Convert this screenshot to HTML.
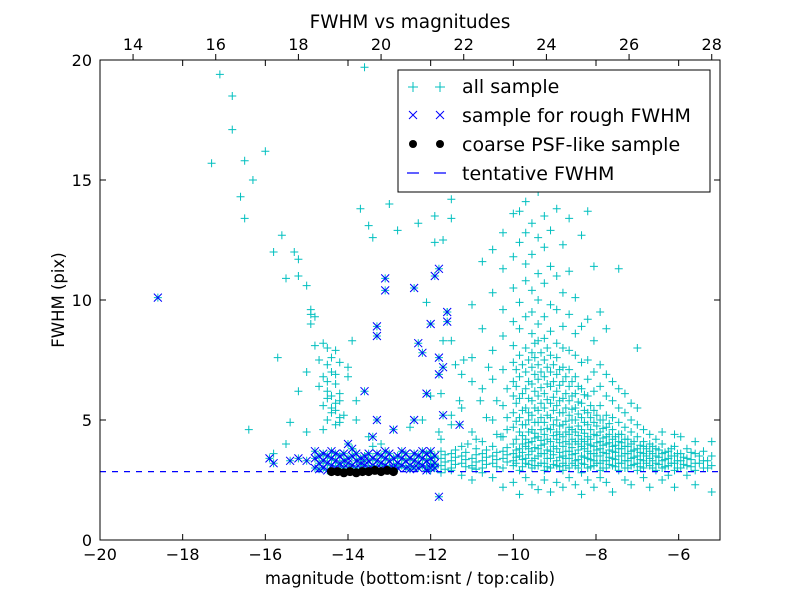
<!DOCTYPE html>
<html><head><meta charset="utf-8">
<style>
body{margin:0;background:#fff;}
svg text{font-family:"DejaVu Sans","Liberation Sans",sans-serif;}
</style></head>
<body>
<svg id="chart" width="800" height="600" viewBox="0 0 800 600" xmlns="http://www.w3.org/2000/svg">
<rect width="800" height="600" fill="#fff"/>
<text x="410" y="28" font-size="18.5" text-anchor="middle">FWHM vs magnitudes</text>
<g id="marks"></g>
<rect x="100" y="60" width="620" height="480" fill="none" stroke="#000" stroke-width="1"/>
<g id="axes"></g>
<text x="410" y="584" font-size="16.5" text-anchor="middle">magnitude (bottom:isnt / top:calib)</text>
<text x="64" y="300" font-size="16.5" text-anchor="middle" transform="rotate(-90 64 300)">FWHM (pix)</text>
<g>
<rect x="398" y="70" width="312" height="122" fill="#fff" stroke="#000" stroke-width="1"/>
<g>
<path d="M408 87h10M413 82v10M435 87h10M440 82v10" stroke="#00bfbf" stroke-width="1"/>
<text x="462" y="93" font-size="19">all sample</text></g>
<g>
<path d="M409 111l8 8M417 111l-8 8M436 111l8 8M444 111l-8 8" stroke="#0000ff" stroke-width="1"/>
<text x="462" y="122" font-size="19">sample for rough FWHM</text></g>
<g>
<circle cx="413" cy="144" r="4" fill="#000"/><circle cx="440" cy="144" r="4" fill="#000"/>
<text x="462" y="151" font-size="19">coarse PSF-like sample</text></g>
<g>
<path d="M407 173h12M434 173h12" stroke="#0000ff" stroke-width="1.2"/>
<text x="462" y="180" font-size="19">tentative FWHM</text></g>
</g>
</svg>
<script>
const xTicks=[-20,-18,-16,-14,-12,-10,-8,-6];
const yTicks=[0,5,10,15,20];
const topTicks=[14,16,18,20,22,24,26,28];
const topOffset=33.2;
const tentativeFwhm=2.85;
const scatterCyan=[[-17.3,15.7],[-17.1,19.4],[-16.8,18.5],[-16.8,17.1],[-16.5,15.8],[-16.3,15.0],[-16.0,16.2],[-16.6,14.3],[-16.5,13.4],[-15.8,12.0],[-15.6,12.7],[-15.5,10.9],[-15.3,12.0],[-15.2,11.7],[-15.2,11.0],[-15.0,10.6],[-14.9,9.6],[-14.8,9.3],[-14.9,9.0],[-14.6,8.2],[-14.8,8.1],[-14.5,8.0],[-14.3,7.9],[-14.7,7.5],[-14.5,7.3],[-14.4,7.0],[-14.6,6.8],[-14.3,6.5],[-14.5,6.2],[-14.4,6.0],[-14.2,5.8],[-14.6,5.6],[-14.3,5.4],[-14.1,5.2],[-14.5,5.0],[-14.3,4.8],[-15.0,4.5],[-15.4,4.9],[-15.5,4.0],[-15.8,3.6],[-16.4,4.6],[-15.7,7.6],[-15.0,7.0],[-15.2,6.2],[-14.0,7.2],[-13.9,8.3],[-14.0,6.8],[-13.8,5.0],[-13.8,5.8],[-14.0,4.0],[-13.5,4.3],[-13.2,4.0],[-13.9,3.8],[-13.4,3.9],[-13.7,13.8],[-13.5,13.1],[-13.4,12.6],[-13.0,14.0],[-12.8,12.9],[-13.6,19.7],[-12.3,13.2],[-11.9,13.5],[-11.7,12.5],[-11.5,14.2],[-11.9,12.4],[-12.1,9.9],[-11.6,9.5],[-11.7,8.3],[-12.0,6.0],[-11.4,7.3],[-11.3,5.8],[-11.5,5.2],[-11.8,4.5],[-12.5,4.7],[-12.2,5.0],[-11.2,7.5],[-11.0,6.6],[-10.8,5.8],[-10.6,7.2],[-10.3,4.3],[-11.1,4.0],[-10.9,3.8],[-14.9,9.4],[-14.7,6.4],[-14.2,6.1],[-14.4,5.5],[-14.2,4.9],[-14.6,4.6],[-14.4,7.6],[-14.2,7.4],[-14.5,6.6],[-14.3,6.9],[-14.5,5.9],[-14.3,5.7],[-14.4,5.3],[-14.2,5.1]];
const colMag=[-12.0,-11.75,-11.5,-11.25,-11.0,-10.75,-10.5,-10.25,-10.0,-9.85,-9.7,-9.55,-9.4,-9.25,-9.1,-8.95,-8.8,-8.65,-8.5,-8.35,-8.2,-8.05,-7.9,-7.75,-7.6,-7.45,-7.3,-7.15,-7.0,-6.85,-6.7,-6.55,-6.4,-6.25,-6.1,-5.95,-5.8,-5.6,-5.4,-5.2];
const colFwhm=[[3.0,3.2,3.5,3.3,2.9,3.6],[3.1,3.4,2.8,3.7,4.2,6.1],[3.0,3.3,3.6,2.9,4.8,8.3,13.4],[3.2,3.5,2.7,3.9,5.5,6.9],[3.1,3.4,3.0,2.5,4.5,7.6,9.8],[3.3,3.6,3.0,2.8,4.1,6.3,8.8,11.6],[3.2,3.5,3.9,2.6,5.0,6.7,7.9,10.3,12.1],[3.0,3.4,3.7,4.3,5.6,7.1,8.5,9.6,11.3,12.8,2.2],[3.1,3.3,3.6,4.0,4.7,5.3,6.0,6.6,7.4,8.1,9.1,10.5,11.8,13.6,2.4],[2.9,3.5,3.8,4.5,5.1,5.9,6.8,7.7,8.8,9.9,12.4,13.7,1.9],[3.2,3.4,3.9,4.2,4.8,5.5,6.3,7.0,8.0,9.3,10.8,11.5,12.8,14.1,2.6],[3.0,3.3,3.7,4.1,4.6,5.2,5.8,6.5,7.2,7.8,8.6,9.5,10.4,11.9,13.2,15.0,2.3],[3.1,3.5,3.8,4.3,4.9,5.4,6.0,6.7,7.3,8.3,9.0,10.0,11.1,12.6,14.5,2.1],[2.9,3.2,3.6,4.0,4.4,4.9,5.5,6.1,6.8,7.5,8.4,9.3,10.7,12.2,13.5,2.5],[3.0,3.4,3.7,4.1,4.6,5.1,5.7,6.4,7.0,7.7,8.7,9.8,11.4,12.9,2.0],[3.1,3.3,3.8,4.2,4.5,5.0,5.6,6.2,6.9,7.6,8.2,9.6,11.0,13.8,2.4],[2.9,3.2,3.5,3.9,4.3,4.8,5.3,5.9,6.6,7.2,8.0,8.9,10.3,12.3,2.2],[3.0,3.4,3.7,4.0,4.4,4.7,5.2,5.8,6.4,7.1,7.9,9.4,11.2,13.4,2.6],[3.1,3.3,3.6,4.1,4.5,5.0,5.5,6.1,6.8,7.7,8.6,10.1,2.3],[2.8,3.2,3.5,3.9,4.2,4.6,5.1,5.7,6.3,7.4,8.9,12.7,1.9],[3.0,3.4,3.7,4.0,4.3,4.8,5.3,6.0,6.7,7.5,9.2,13.7,2.5],[3.1,3.3,3.6,3.9,4.4,4.9,5.4,6.2,7.0,8.3,11.4,2.2],[2.9,3.2,3.5,3.8,4.1,4.5,5.0,5.6,6.4,7.3,9.5,2.6],[3.0,3.3,3.6,4.0,4.3,4.7,5.2,6.0,6.9,8.8,2.4],[3.1,3.4,3.7,3.9,4.2,4.6,5.1,5.8,6.6,2.0],[2.9,3.2,3.5,3.8,4.1,4.4,4.9,5.5,6.3,11.3],[3.0,3.3,3.6,3.9,4.2,4.7,5.3,6.1,2.5],[3.1,3.4,3.7,4.0,4.5,5.0,5.7,2.3],[2.9,3.2,3.5,3.8,4.3,4.8,5.5,8.0],[3.0,3.3,3.6,3.9,4.1,4.6,2.6],[3.1,3.4,3.7,4.0,4.4,2.2],[2.9,3.2,3.5,3.8,4.2],[3.0,3.3,3.6,4.0,4.5,2.5],[3.1,3.4,3.7,2.7],[2.9,3.2,3.5,3.9,4.4,2.2],[3.0,3.3,3.6,4.3],[3.1,3.4,3.8,2.7],[2.9,3.2,3.6,4.1,2.3],[3.0,3.3,3.7],[3.1,3.5,4.1,2.0]];
const denseMag=[-11.9,-11.65,-11.4,-11.15,-10.9,-10.65,-10.4,-10.15,-9.93,-9.78,-9.63,-9.48,-9.33,-9.18,-9.03,-8.88,-8.73,-8.58,-8.43,-8.28,-8.13,-7.98,-7.83,-7.68,-7.53,-7.38,-7.23,-7.08,-6.93,-6.78,-6.63,-6.48,-6.33,-6.18,-6.03,-5.88,-5.7,-5.5,-5.3];
const denseFwhm=[[3.05,3.45,3.15],[3.25,2.95,3.55],[3.15,3.45,3.75],[3.05,3.35,3.65],[3.25,2.95,3.55,4.2],[3.15,3.45,3.75,5.1],[3.05,3.35,3.65,4.4,5.8],[3.25,3.55,3.85,4.6,5.1,6.3],[3.2,3.45,3.75,4.2,4.95,5.7,6.4,7.1],[3.05,3.35,3.65,4.0,4.35,4.8,5.4,6.1,7.3],[3.15,3.55,3.8,4.05,4.5,5.0,5.3,5.9,6.6,7.5],[3.1,3.4,3.85,4.25,4.45,4.9,5.5,6.2,6.9,7.6,8.2],[3.2,3.6,3.95,4.15,4.6,5.1,5.7,6.35,7.0,7.8],[3.05,3.4,3.75,4.2,4.65,5.2,5.85,6.5,7.2,8.0],[3.15,3.55,3.9,4.35,4.8,5.4,5.95,6.6,7.3],[3.05,3.45,3.65,4.05,4.4,4.75,5.3,5.8,6.45,7.1],[3.1,3.4,3.7,4.1,4.5,4.95,5.5,6.1,6.8],[3.2,3.55,3.85,4.2,4.6,5.0,5.45,6.0,6.6],[3.0,3.35,3.75,4.0,4.35,4.75,5.25,5.75,6.4],[3.15,3.45,3.8,4.1,4.45,4.9,5.4,6.05],[3.05,3.35,3.6,3.95,4.2,4.6,5.1,5.6],[3.2,3.5,3.75,4.05,4.35,4.75,5.2],[3.0,3.3,3.65,3.95,4.25,4.65,5.0],[3.15,3.45,3.75,4.05,4.4,4.85],[3.05,3.35,3.65,3.95,4.3],[3.2,3.5,3.8,4.05,4.4],[3.0,3.3,3.6,3.9,4.2],[3.15,3.45,3.75,4.1],[3.05,3.35,3.65,3.95],[3.2,3.5,3.8],[3.0,3.3,3.6,3.9],[3.15,3.45,3.75],[3.05,3.35,3.65],[3.2,3.5,3.8],[3.0,3.3,3.6],[3.15,3.45],[3.05,3.35,3.65],[3.2,3.5],[3.0,3.3]];
const roughScatter=[[-18.6,10.1],[-13.1,10.9],[-13.1,10.4],[-13.3,8.9],[-13.3,8.5],[-12.4,10.5],[-11.8,11.3],[-11.9,11.0],[-12.0,9.0],[-11.6,9.5],[-11.6,9.1],[-12.3,8.2],[-12.2,7.8],[-11.8,7.6],[-11.7,7.2],[-11.8,6.9],[-12.1,6.1],[-13.6,6.2],[-13.3,5.0],[-12.4,5.0],[-12.9,4.6],[-13.4,4.3],[-14.0,4.0],[-11.7,5.2],[-11.3,4.8],[-11.8,1.8],[-15.9,3.4],[-15.8,3.2],[-15.4,3.3],[-15.2,3.4],[-15.0,3.3]];
const roughBandMag=[-14.8,-14.7,-14.6,-14.5,-14.4,-14.3,-14.2,-14.1,-14.0,-13.9,-13.8,-13.7,-13.6,-13.5,-13.4,-13.3,-13.2,-13.1,-13.0,-12.9,-12.8,-12.7,-12.6,-12.5,-12.4,-12.3,-12.2,-12.1,-12.0,-11.9];
const roughBandFwhm=[[3.0,3.4,3.7],[3.2,3.5,2.95],[3.0,3.3,3.6],[3.2,3.5,2.9],[3.1,3.4,3.7],[3.0,3.3,3.6],[3.1,3.5,3.2],[3.0,3.3,3.6],[3.2,3.4,3.0],[3.1,3.5,3.8],[3.0,3.3,3.6],[3.2,3.4,3.0],[3.1,3.5,3.3],[3.0,3.3,3.6],[3.1,3.4,2.95],[3.0,3.3,3.6],[3.2,3.5,3.0],[3.1,3.4,3.7],[3.0,3.3,3.6],[3.1,3.4,3.0],[3.2,3.5,3.0],[3.1,3.4,3.7],[3.0,3.3,3.6],[3.1,3.4,2.95],[3.0,3.3,3.6],[3.2,3.5,3.0],[3.1,3.4,3.7],[3.0,3.3,3.6,2.9],[3.1,3.4,3.7,3.0],[3.2,3.5,3.0]];
const psfMag=[-14.4,-14.25,-14.1,-13.95,-13.8,-13.65,-13.5,-13.35,-13.2,-13.05,-12.9];
const psfFwhm=[2.85,2.85,2.8,2.85,2.8,2.85,2.85,2.9,2.85,2.9,2.85];

const NS='http://www.w3.org/2000/svg';
const X0=100,X1=720,Y0=540,Y1=60;
function sx(v){return X0+(v-(-20))/15*(X1-X0);}
function sy(v){return Y0-(v-0)/20*(Y0-Y1);}
const marks=document.getElementById('marks');
const axes=document.getElementById('axes');
function el(tag,attrs,parent){const e=document.createElementNS(NS,tag);for(const k in attrs)e.setAttribute(k,attrs[k]);parent.appendChild(e);return e;}

function plus(m,f){const x=sx(m),y=sy(f);
 const p=el('path',{d:`M${x-4} ${y}h8M${x} ${y-4}v8`,stroke:'#00bfbf','stroke-width':1,fill:'none'},marks);
 
 }
function cross(m,f){const x=sx(m),y=sy(f);
 const p=el('path',{d:`M${x-4} ${y-4}l8 8M${x+4} ${y-4}l-8 8`,stroke:'#0000ff','stroke-width':1,fill:'none'},marks);
 
 }

scatterCyan.forEach(d=>plus(d[0],d[1]));
colMag.forEach((m,i)=>colFwhm[i].forEach(f=>plus(m,f)));
denseMag.forEach((m,i)=>denseFwhm[i].forEach(f=>plus(m,f)));
roughScatter.forEach(d=>{plus(d[0],d[1]);cross(d[0],d[1]);});
roughBandMag.forEach((m,i)=>roughBandFwhm[i].forEach(f=>{plus(m,f);cross(m,f);}));
const tl=el('line',{x1:sx(-20),x2:sx(-5),y1:sy(tentativeFwhm),y2:sy(tentativeFwhm),stroke:'#0000ff','stroke-width':1.2,'stroke-dasharray':'6 6'},marks);


psfMag.forEach((m,i)=>{const c=el('circle',{cx:sx(m),cy:sy(psfFwhm[i]),r:4.5,fill:'#000'},marks);
 
 });

xTicks.forEach(v=>{const x=sx(v);
 el('path',{d:`M${x} ${Y0}v-6M${x} ${Y1}v6`,stroke:'#000'},axes);
 const t=el('text',{x:x,y:560,'font-size':16,'text-anchor':'middle'},axes);t.textContent=(v<0?'\u2212'+(-v):v);
 
 });
yTicks.forEach(v=>{const y=sy(v);
 el('path',{d:`M${X0} ${y}h6M${X1} ${y}h-6`,stroke:'#000'},axes);
 const t=el('text',{x:92,y:y+6,'font-size':16,'text-anchor':'end'},axes);t.textContent=v;
 
 });
topTicks.forEach(v=>{const x=sx(v-topOffset);
 el('path',{d:`M${x} ${Y1}v-6`,stroke:'#000'},axes);
 const t=el('text',{x:x,y:50,'font-size':16,'text-anchor':'middle'},axes);t.textContent=v;
 
 });
</script>
</body></html>
